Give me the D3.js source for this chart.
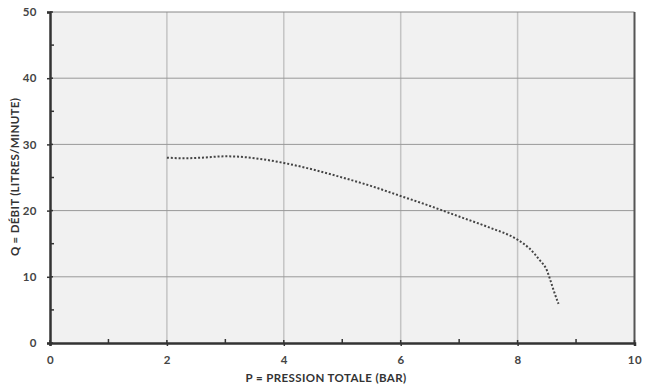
<!DOCTYPE html>
<html><head><meta charset="utf-8">
<script src="https://cdn.jsdelivr.net/npm/d3@7"></script>
<style>body{margin:0;background:#fff}svg{display:block}text{font-family:Lato,"Open Sans",sans-serif;font-weight:700}</style>
</head><body><svg id="c" width="649" height="388"></svg>
<script>
const pressure = [2.0, 2.3, 2.6, 3.0, 3.3, 3.6, 4.0, 4.5, 5.0, 5.5, 6.0, 6.5, 7.0, 7.5, 8.0, 8.2, 8.38, 8.5, 8.56, 8.63, 8.7];
const flow     = [28.0, 27.9, 28.0, 28.2, 28.1, 27.8, 27.2, 26.2, 25.0, 23.7, 22.2, 20.7, 19.1, 17.5, 15.6, 14.3, 12.5, 11.0, 9.5, 7.6, 5.9];
const xTicks = [0, 2, 4, 6, 8, 10];
const yTicks = [0, 10, 20, 30, 40, 50];
const xMinor = [1, 3, 5, 7, 9];
const yMinor = [5, 15, 25, 35, 45];
const xLabel = "P = PRESSION TOTALE (BAR)";
const yLabel = "Q = DÉBIT (LITRES/MINUTE)";

const svg = d3.select("#c");
const L = 50, R = 634.5, T = 12, B = 343;
const x = d3.scaleLinear().domain([0, 10]).range([L, R]);
const y = d3.scaleLinear().domain([0, 50]).range([B, T]);

svg.append("rect").attr("x", L).attr("y", T).attr("width", R - L).attr("height", B - T).attr("fill", "#f1f1f1");

// grid
svg.append("g").selectAll("line").data(xTicks.filter(d => d > 0 && d < 10)).join("line")
  .attr("x1", d => x(d)).attr("x2", d => x(d)).attr("y1", T).attr("y2", B)
  .attr("stroke", "#c4c4c4").attr("stroke-width", 1.5);
svg.append("g").selectAll("line").data(yTicks.filter(d => d > 0 && d < 50)).join("line")
  .attr("x1", L).attr("x2", R).attr("y1", d => y(d)).attr("y2", d => y(d))
  .attr("stroke", "#999").attr("stroke-width", 1);

// frame top/right
svg.append("line").attr("x1", L).attr("x2", R).attr("y1", T).attr("y2", T).attr("stroke", "#888").attr("stroke-width", 1);
svg.append("line").attr("x1", R).attr("x2", R).attr("y1", T).attr("y2", B).attr("stroke", "#555").attr("stroke-width", 2);

// axes
const xAxis = svg.append("g").attr("transform", `translate(0,${B})`)
  .call(d3.axisBottom(x).tickValues(xTicks).tickFormat(d3.format("d")).tickSize(3).tickPadding(10));
const yAxis = svg.append("g").attr("transform", `translate(${L},0)`)
  .call(d3.axisLeft(y).tickValues(yTicks).tickFormat(d3.format("d")).tickSize(3).tickPadding(10));
[xAxis, yAxis].forEach(g => {
  g.select(".domain").attr("stroke", "#333").attr("stroke-width", 2.5);
  g.selectAll(".tick line").attr("stroke", "#333").attr("stroke-width", 1.5);
  g.selectAll(".tick text").attr("fill", "#444").attr("font-size", 11.5).attr("font-family", "Lato, sans-serif").attr("font-weight", 700).attr("letter-spacing", 0.5);
});
svg.append("g").selectAll("line").data(xTicks).join("line")
  .attr("x1", d => x(d)).attr("x2", d => x(d)).attr("y1", B).attr("y2", B - 3).attr("stroke", "#333").attr("stroke-width", 1.5);
svg.append("g").selectAll("line").data(yTicks).join("line")
  .attr("x1", L).attr("x2", L + 3).attr("y1", d => y(d)).attr("y2", d => y(d)).attr("stroke", "#333").attr("stroke-width", 1.5);
svg.append("g").selectAll("line").data(xMinor).join("line")
  .attr("x1", d => x(d)).attr("x2", d => x(d)).attr("y1", B).attr("y2", B - 4).attr("stroke", "#333").attr("stroke-width", 1.5);
svg.append("g").selectAll("line").data(yMinor).join("line")
  .attr("x1", L).attr("x2", L + 4).attr("y1", d => y(d)).attr("y2", d => y(d)).attr("stroke", "#333").attr("stroke-width", 1.5);

// curve
const pts = pressure.map((p, i) => [p, flow[i]]);
svg.append("path").datum(pts)
  .attr("d", d3.line().x(d => x(d[0])).y(d => y(d[1])).curve(d3.curveMonotoneX))
  .attr("fill", "none").attr("stroke", "#444").attr("stroke-width", 2)
  .attr("stroke-dasharray", "2,1.9");

// labels
svg.append("text").attr("x", 326).attr("y", 382).attr("text-anchor", "middle")
  .attr("font-size", 11.5).attr("letter-spacing", 0.4).attr("fill", "#333").text(xLabel);
svg.append("text").attr("transform", `translate(19,177) rotate(-90)`).attr("text-anchor", "middle")
  .attr("font-size", 11.5).attr("letter-spacing", 0.3).attr("fill", "#333").text(yLabel);
</script></body></html>
